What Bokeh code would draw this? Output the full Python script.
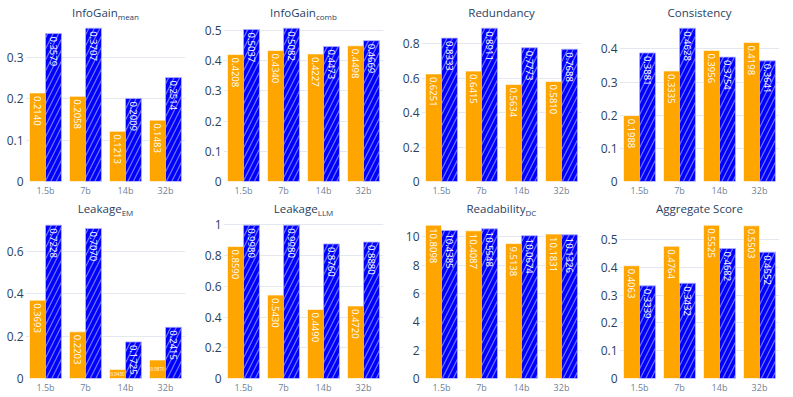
import math
from bokeh.plotting import figure
from bokeh.layouts import column, row
from bokeh.models import ColumnDataSource, Range1d, FactorRange, FixedTicker, NumeralTickFormatter, Label
from bokeh.transform import dodge
from bokeh.core.properties import value
from bokeh.embed import file_html
from bokeh.resources import INLINE

categories = ["1.5b", "7b", "14b", "32b"]

infogain_mean_a = [0.2140, 0.2058, 0.1213, 0.1483]
infogain_mean_b = [0.3579, 0.3707, 0.2009, 0.2514]
infogain_comb_a = [0.4208, 0.4340, 0.4227, 0.4498]
infogain_comb_b = [0.5037, 0.5082, 0.4473, 0.4669]
redundancy_a = [0.6251, 0.6415, 0.5634, 0.5810]
redundancy_b = [0.8333, 0.8911, 0.7773, 0.7688]
consistency_a = [0.1988, 0.3335, 0.3956, 0.4198]
consistency_b = [0.3881, 0.4628, 0.3754, 0.3641]
leakage_em_a = [0.3693, 0.2203, 0.0430, 0.0870]
leakage_em_b = [0.7228, 0.7070, 0.1725, 0.2415]
leakage_llm_a = [0.8590, 0.5430, 0.4490, 0.4720]
leakage_llm_b = [0.9980, 0.9980, 0.8760, 0.8880]
readability_a = [10.8098, 10.4087, 9.5138, 10.1831]
readability_b = [10.4385, 10.5548, 10.0674, 10.1326]
aggregate_a = [0.4063, 0.4764, 0.5525, 0.5503]
aggregate_b = [0.3339, 0.3432, 0.4682, 0.4552]

titles_main = ["InfoGain", "InfoGain", "Redundancy", "Consistency",
               "Leakage", "Leakage", "Readability", "Aggregate Score"]
titles_sub = ["mean", "comb", "", "", "EM", "LLM", "DC", ""]

ticks_infogain_mean = [0, 0.1, 0.2, 0.3]
ticks_infogain_comb = [0, 0.1, 0.2, 0.3, 0.4, 0.5]
ticks_redundancy = [0, 0.2, 0.4, 0.6, 0.8]
ticks_consistency = [0, 0.1, 0.2, 0.3, 0.4]
ticks_leakage_em = [0, 0.2, 0.4, 0.6]
ticks_leakage_llm = [0, 0.2, 0.4, 0.6, 0.8, 1]
ticks_readability = [0, 2, 4, 6, 8, 10]
ticks_aggregate = [0, 0.1, 0.2, 0.3, 0.4, 0.5]

panels = [
    (infogain_mean_a, infogain_mean_b, ticks_infogain_mean),
    (infogain_comb_a, infogain_comb_b, ticks_infogain_comb),
    (redundancy_a, redundancy_b, ticks_redundancy),
    (consistency_a, consistency_b, ticks_consistency),
    (leakage_em_a, leakage_em_b, ticks_leakage_em),
    (leakage_llm_a, leakage_llm_b, ticks_leakage_llm),
    (readability_a, readability_b, ticks_readability),
    (aggregate_a, aggregate_b, ticks_aggregate),
]

ORANGE = "#FFA500"
BLUE = "#0000FF"
TITLE_C = "#2a3f5f"
FONT = "Open Sans"

CW = {" ": 260, "A": 633, "C": 632, "D": 730, "E": 556, "G": 725, "I": 279, "L": 519,
      "M": 907, "R": 602, "S": 549, "a": 556, "b": 613, "c": 480, "d": 613, "e": 561,
      "f": 336, "g": 547, "i": 252, "k": 525, "l": 252, "m": 930, "n": 615, "o": 600,
      "r": 408, "s": 477, "t": 353, "u": 615, "y": 500}


def tw(s, size):
    return sum(CW.get(ch, 560) for ch in s) / 1000.0 * size


FRAME_W = 160
DATA_H = 161            # pixel height of the data area in each panel
LEFT = 25
widths = [198, 198, 198, 193]
rights = [13, 13, 13, 8]
title_space = [20, 18]  # pixels above the data area (title band) per row
title_gap = [8, 9]      # title centre distance above the data area
bottoms = [18, 18]
heights = [title_space[k] + DATA_H + bottoms[k] for k in range(2)]

figs = []
for i, (va, vb, ticks) in enumerate(panels):
    r, c = divmod(i, 4)
    ymax = max(va + vb) * 1.05
    frame_h = title_space[r] + DATA_H
    y_end = ymax * frame_h / DATA_H   # extend range so the title band sits inside the frame
    p = figure(x_range=FactorRange(*categories), y_range=Range1d(0, y_end),
               width=widths[c], height=heights[r],
               min_border_left=LEFT, min_border_right=rights[c],
               min_border_top=0, min_border_bottom=bottoms[r],
               output_backend="svg", toolbar_location=None, tools="")
    p.outline_line_color = None
    p.background_fill_color = "white"
    p.border_fill_color = "white"
    p.xgrid.grid_line_color = None
    p.ygrid.grid_line_color = "#E4E8EF"
    p.ygrid.grid_line_width = 1

    p.yaxis.ticker = FixedTicker(ticks=ticks)
    p.yaxis.formatter = NumeralTickFormatter(format="0.[0]")
    for ax in (p.xaxis[0], p.yaxis[0]):
        ax.axis_line_color = None
        ax.major_tick_line_color = None
        ax.minor_tick_line_color = None
        ax.major_tick_out = 0
        ax.major_tick_in = 0
        ax.minor_tick_out = 0
        ax.minor_tick_in = 0
        ax.major_label_text_font = FONT
    p.yaxis.major_label_standoff = 2
    p.yaxis.major_label_text_font_size = "12px"
    p.yaxis.major_label_text_color = TITLE_C

    p.xaxis.major_label_standoff = 2
    p.xaxis.major_label_text_font_size = "9px"
    p.xaxis.major_label_text_color = "#6f7f96"

    src = ColumnDataSource(dict(cat=categories, a=va, b=vb))
    p.vbar(x=dodge("cat", -0.2, range=p.x_range), top="a", width=0.4, source=src,
           fill_color=ORANGE, line_color="white", line_alpha=0.6, line_width=1)
    p.vbar(x=dodge("cat", 0.2, range=p.x_range), top="b", width=0.4, source=src,
           fill_color=BLUE, line_color="#B0B0FF", line_alpha=0.8, line_width=1,
           hatch_pattern="/", hatch_color="white", hatch_alpha=0.45,
           hatch_scale=11, hatch_weight=1.2)

    for vals, off in ((va, -0.2), (vb, 0.2)):
        tall = dict(cat=[], val=[], lab=[])
        tiny = dict(cat=[], mid=[], lab=[])
        for cat, v in zip(categories, vals):
            if v / ymax < 0.2:
                tiny["cat"].append(cat)
                tiny["mid"].append(v / 2)
                tiny["lab"].append("%.4f" % v)
            else:
                tall["cat"].append(cat)
                tall["val"].append(v)
                tall["lab"].append("%.4f" % v)
        p.text(x=dodge("cat", off, range=p.x_range), y="val", text="lab",
               source=ColumnDataSource(tall), angle=-math.pi / 2,
               text_align="left", text_baseline="middle", y_offset=3,
               text_font=value(FONT), text_font_size="9.5px", text_color="white")
        p.text(x=dodge("cat", off, range=p.x_range), y="mid", text="lab",
               source=ColumnDataSource(tiny), text_align="center",
               text_baseline="middle", text_font=value(FONT),
               text_font_size="4.5px", text_color="white")

    main, sub = titles_main[i], titles_sub[i]
    ty = DATA_H + title_gap[r]
    if sub:
        wm, ws = tw(main, 11.5), tw(sub, 8)
        anchor = FRAME_W / 2 + (wm - ws) / 2
        p.add_layout(Label(x=anchor, y=ty, x_units="screen", y_units="screen",
                           text=main, text_align="right", text_baseline="middle",
                           text_font=FONT, text_font_size="11.5px", text_color=TITLE_C))
        p.add_layout(Label(x=anchor, y=ty - 4, x_units="screen", y_units="screen",
                           text=sub, text_align="left", text_baseline="middle",
                           text_font=FONT, text_font_size="8px", text_color=TITLE_C))
    else:
        p.add_layout(Label(x=FRAME_W / 2, y=ty, x_units="screen", y_units="screen",
                           text=main, text_align="center", text_baseline="middle",
                           text_font=FONT, text_font_size="11.5px", text_color=TITLE_C))
    figs.append(p)

layout = column(row(*figs[:4]), row(*figs[4:]))
open("out.html", "w").write(file_html(layout, INLINE))
